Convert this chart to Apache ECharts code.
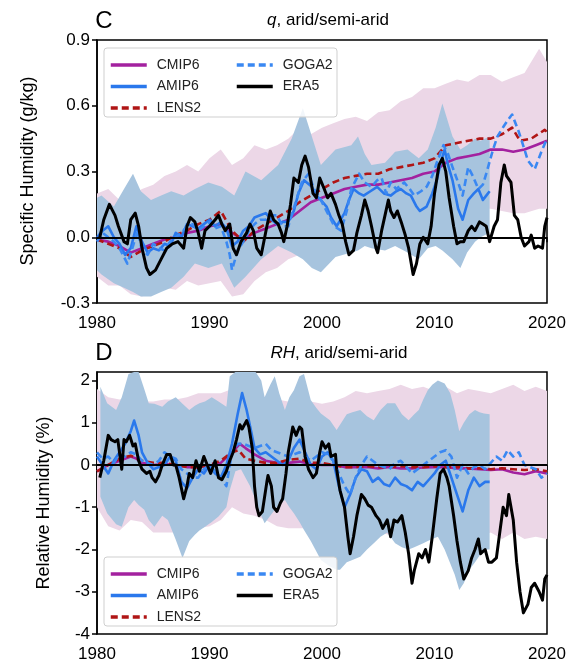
<!DOCTYPE html>
<html>
<head>
<meta charset="utf-8">
<script src="https://cdn.jsdelivr.net/npm/echarts@6.0.0/dist/echarts.min.js"></script>
<style>
  html, body { margin: 0; padding: 0; background: #fff; }
  #chart { width: 579px; height: 665px; }
</style>
</head>
<body>
<div id="chart"></div>
<script>
// ---- panel C: specific humidity anomaly (g/kg), [year, value] ----
const qCmip6 = [[1980,-0.01],[1981,-0.02],[1982,-0.04],[1983,-0.07],[1984,-0.05],[1985,-0.03],[1986,-0.01],[1987,0.0],[1988,0.02],[1989,0.03],[1990,0.05],[1991,0.06],[1992,0.02],[1993,-0.01],[1994,0.02],[1995,0.04],[1996,0.06],[1997,0.08],[1998,0.12],[1999,0.16],[2000,0.18],[2001,0.2],[2002,0.22],[2003,0.23],[2004,0.24],[2005,0.24],[2006,0.25],[2007,0.26],[2008,0.27],[2009,0.29],[2010,0.3],[2011,0.34],[2012,0.36],[2013,0.37],[2014,0.38],[2015,0.4],[2016,0.4],[2017,0.39],[2018,0.4],[2019,0.42],[2020,0.44]];
const qLens2 = [[1980,-0.01],[1981,-0.03],[1982,-0.05],[1983,-0.09],[1984,-0.06],[1985,-0.04],[1986,-0.02],[1987,0.01],[1988,0.03],[1989,0.06],[1990,0.08],[1991,0.12],[1992,0.03],[1993,-0.02],[1994,0.03],[1995,0.06],[1996,0.09],[1997,0.12],[1998,0.16],[1999,0.19],[2000,0.22],[2001,0.25],[2002,0.27],[2003,0.28],[2004,0.29],[2005,0.29],[2006,0.31],[2007,0.32],[2008,0.33],[2009,0.34],[2010,0.36],[2011,0.42],[2012,0.43],[2013,0.44],[2014,0.45],[2015,0.45],[2016,0.47],[2016.9,0.5],[2017.6,0.44],[2018.6,0.45],[2019.8,0.49],[2020,0.48]];
const qAmip6 = [[1980,0.0],[1980.5,0.03],[1981,0.05],[1981.5,0.0],[1982,-0.03],[1982.5,-0.08],[1983,-0.05],[1983.5,0.05],[1984,-0.02],[1984.5,-0.07],[1985,-0.05],[1985.5,-0.06],[1986,-0.03],[1986.5,-0.04],[1987,0.02],[1987.5,0.0],[1988,0.06],[1988.5,0.05],[1989,0.04],[1989.5,0.06],[1990,0.08],[1990.5,0.05],[1991,0.07],[1991.5,0.04],[1992,-0.04],[1992.5,-0.02],[1993,0.03],[1993.5,0.05],[1994,0.09],[1994.5,0.1],[1995,0.11],[1995.5,0.08],[1996,0.06],[1996.5,0.07],[1997,0.07],[1997.5,0.12],[1997.9,0.2],[1998.4,0.26],[1999.1,0.23],[1999.5,0.19],[1999.9,0.17],[2000.4,0.14],[2000.8,0.09],[2001.3,0.05],[2002,0.11],[2002.4,0.17],[2002.8,0.22],[2003.3,0.2],[2003.7,0.19],[2004.3,0.21],[2004.9,0.23],[2005.5,0.2],[2006.1,0.19],[2006.6,0.21],[2007,0.22],[2007.5,0.2],[2007.9,0.19],[2008.4,0.14],[2008.7,0.12],[2009.3,0.14],[2009.8,0.2],[2010.2,0.26],[2010.6,0.35],[2010.9,0.4],[2011.2,0.33],[2011.6,0.26],[2012.1,0.13],[2012.5,0.08],[2013,0.17],[2013.5,0.2],[2013.9,0.22],[2014.3,0.17],[2014.6,0.19],[2014.9,0.21]];
const qGoga2 = [[1980,-0.02],[1980.5,0.02],[1981,0.0],[1981.5,-0.02],[1982,-0.05],[1982.7,-0.12],[1983.2,-0.04],[1983.6,0.03],[1984,-0.06],[1984.5,-0.08],[1985,-0.03],[1985.5,-0.05],[1986,-0.06],[1986.5,-0.02],[1987,0.0],[1987.5,0.02],[1988,0.05],[1988.5,0.06],[1989,0.03],[1989.5,0.05],[1990,0.07],[1990.5,0.04],[1991,0.05],[1991.5,-0.02],[1991.8,-0.08],[1992,-0.15],[1992.5,-0.06],[1993,-0.02],[1993.5,0.03],[1994,0.06],[1994.5,0.08],[1995,0.08],[1995.5,0.1],[1996,0.1],[1996.5,0.05],[1997,0.05],[1997.6,0.15],[1998.2,0.25],[1998.8,0.29],[1999.3,0.22],[1999.7,0.19],[2000.1,0.15],[2000.5,0.11],[2001.1,0.05],[2001.7,0.03],[2002.2,0.12],[2002.6,0.22],[2003.3,0.29],[2003.8,0.25],[2004.4,0.23],[2004.9,0.26],[2005.3,0.27],[2005.7,0.2],[2006.1,0.25],[2006.6,0.22],[2007.3,0.25],[2007.8,0.22],[2008.2,0.19],[2008.8,0.21],[2009.3,0.23],[2009.8,0.28],[2010.2,0.34],[2010.8,0.42],[2011.2,0.38],[2011.6,0.32],[2012.1,0.25],[2012.5,0.19],[2013,0.32],[2013.4,0.28],[2013.9,0.22],[2014.3,0.24],[2014.6,0.29],[2015.2,0.4],[2015.6,0.46],[2016.2,0.51],[2016.6,0.54],[2016.9,0.56],[2017.5,0.48],[2018,0.4],[2018.3,0.35],[2018.9,0.31],[2019.5,0.39],[2020,0.45]];
const qEra5 = [[1980.25,0.0],[1980.6,0.08],[1981.1,0.15],[1981.6,0.1],[1981.9,0.05],[1982.4,-0.02],[1982.7,-0.03],[1983.0,0.08],[1983.4,0.11],[1983.7,0.05],[1984.0,-0.05],[1984.4,-0.14],[1984.7,-0.17],[1985.2,-0.15],[1985.7,-0.1],[1986.2,-0.05],[1986.7,-0.03],[1987.2,-0.02],[1987.7,-0.05],[1988.0,0.05],[1988.3,0.09],[1988.7,0.07],[1989.0,0.02],[1989.3,-0.05],[1989.6,0.03],[1990.0,0.05],[1990.5,0.08],[1990.8,0.1],[1991.1,0.06],[1991.4,0.03],[1991.8,0.06],[1992.1,-0.05],[1992.4,-0.08],[1992.8,-0.02],[1993.3,0.02],[1993.6,0.06],[1993.9,0.03],[1994.2,-0.05],[1994.6,-0.08],[1995.1,0.05],[1995.4,0.12],[1995.7,0.08],[1996.1,0.06],[1996.4,0.02],[1996.6,-0.02],[1996.9,0.05],[1997.2,0.15],[1997.5,0.27],[1997.9,0.25],[1998.2,0.33],[1998.5,0.37],[1998.8,0.32],[1999.2,0.2],[1999.5,0.18],[1999.8,0.27],[2000.2,0.22],[2000.5,0.18],[2000.8,0.2],[2001.2,0.15],[2001.5,0.1],[2001.8,0.06],[2002.1,-0.02],[2002.4,-0.08],[2002.8,-0.06],[2003.1,0.02],[2003.5,0.1],[2003.8,0.17],[2004.1,0.12],[2004.4,0.05],[2004.8,-0.05],[2004.95,-0.07],[2005.3,0.03],[2005.6,0.1],[2005.9,0.17],[2006.1,0.12],[2006.4,0.09],[2006.7,0.12],[2007.1,0.06],[2007.4,0.01],[2007.7,-0.05],[2008.1,-0.17],[2008.4,-0.12],[2008.7,-0.03],[2009.0,0.0],[2009.4,-0.03],[2009.7,0.05],[2010.0,0.2],[2010.4,0.33],[2010.7,0.36],[2011.0,0.3],[2011.3,0.18],[2011.7,0.05],[2012.0,-0.03],[2012.3,-0.02],[2012.6,-0.02],[2013.0,0.03],[2013.3,0.05],[2013.6,0.03],[2014.0,0.07],[2014.3,0.06],[2014.6,0.05],[2014.9,-0.02],[2015.3,0.05],[2015.6,0.08],[2015.9,0.25],[2016.2,0.33],[2016.4,0.28],[2016.8,0.25],[2017.1,0.1],[2017.4,0.08],[2017.7,0.0],[2018.0,-0.04],[2018.4,-0.02],[2018.6,0.01],[2018.9,-0.05],[2019.2,-0.04],[2019.6,-0.05],[2019.8,0.05],[2020.0,0.09]];
// spreads: [year, low, high]
const qCmip6Band = [[1980,-0.18,0.2],[1981,-0.22,0.22],[1982,-0.22,0.17],[1983,-0.26,0.19],[1984,-0.27,0.22],[1985,-0.25,0.24],[1986,-0.23,0.28],[1987,-0.24,0.3],[1988,-0.2,0.33],[1989,-0.22,0.3],[1990,-0.21,0.36],[1991,-0.2,0.4],[1992,-0.27,0.33],[1993,-0.26,0.36],[1994,-0.2,0.42],[1995,-0.16,0.4],[1996,-0.14,0.42],[1997,-0.1,0.45],[1998,-0.08,0.5],[1999,-0.07,0.47],[2000,-0.06,0.5],[2001,-0.04,0.52],[2002,-0.02,0.54],[2003,0.0,0.55],[2004,0.01,0.53],[2005,0.02,0.57],[2006,0.03,0.58],[2007,0.04,0.62],[2008,0.05,0.64],[2009,0.06,0.68],[2010,0.08,0.68],[2011,0.1,0.7],[2012,0.11,0.72],[2013,0.12,0.71],[2014,0.13,0.74],[2015,0.13,0.74],[2016,0.12,0.71],[2017,0.11,0.73],[2018,0.11,0.75],[2019.3,0.13,0.86],[2020,0.13,0.8]];
const qAmip6Band = [[1980,-0.15,0.18],[1980.4,-0.17,0.19],[1981.5,-0.21,0.14],[1982.4,-0.23,0.22],[1983.2,-0.25,0.29],[1983.9,-0.27,0.21],[1984.8,-0.27,0.17],[1985.7,-0.25,0.19],[1986.6,-0.23,0.21],[1987.7,-0.18,0.19],[1988.7,-0.12,0.22],[1989.9,-0.14,0.25],[1991.1,-0.12,0.23],[1992.2,-0.23,0.19],[1993.2,-0.18,0.3],[1994.6,-0.1,0.26],[1996.1,-0.04,0.33],[1997.3,-0.07,0.45],[1998.3,-0.1,0.59],[1999.1,-0.14,0.46],[1999.9,-0.16,0.33],[2001.2,-0.09,0.4],[2002.6,-0.07,0.42],[2003.2,-0.06,0.46],[2003.8,-0.04,0.38],[2004.4,-0.05,0.33],[2005.6,-0.06,0.34],[2006.5,-0.04,0.39],[2007.6,-0.07,0.4],[2008.6,-0.1,0.36],[2009.4,-0.05,0.4],[2010.1,-0.04,0.5],[2010.7,-0.06,0.61],[2011.6,-0.1,0.46],[2012.3,-0.14,0.4],[2012.9,-0.07,0.42],[2013.6,-0.02,0.45],[2014.1,0.0,0.44],[2014.9,0.02,0.46]];

// ---- panel D: relative humidity anomaly (%), [year, value] ----
const rhCmip6 = [[1980,-0.15],[1981,0.0],[1982,0.1],[1983,0.2],[1983.5,0.15],[1984,0.05],[1985,0.0],[1986,0.02],[1987,0.0],[1988,-0.05],[1989,-0.05],[1990,-0.02],[1991,0.05],[1992,0.3],[1992.7,0.5],[1993.2,0.4],[1994,0.25],[1995,0.1],[1996,0.05],[1997,0.05],[1998,0.08],[1999,0.02],[2000,0.0],[2001,0.0],[2002,-0.05],[2003,-0.05],[2004,-0.05],[2005,-0.08],[2006,-0.05],[2007,-0.08],[2008,-0.08],[2009,-0.06],[2010,-0.05],[2011,-0.05],[2012,-0.08],[2013,-0.08],[2014,-0.1],[2015,-0.12],[2016,-0.1],[2017,-0.18],[2018,-0.22],[2019,-0.15],[2020,-0.2]];
const rhLens2 = [[1980,-0.15],[1981,0.0],[1982,0.15],[1983,0.22],[1984,0.1],[1985,0.05],[1986,0.05],[1987,0.0],[1988,-0.05],[1989,-0.05],[1990,0.0],[1991,0.1],[1992,0.3],[1992.6,0.35],[1993.2,0.15],[1994,0.1],[1995,0.05],[1996,0.05],[1997,0.12],[1998,0.15],[1999,0.05],[2000,0.05],[2001,0.0],[2002,-0.05],[2003,-0.05],[2004,-0.03],[2005,-0.05],[2006,-0.05],[2007,-0.03],[2008,-0.05],[2009,-0.05],[2010,-0.03],[2011,-0.05],[2012,-0.05],[2013,-0.08],[2014,-0.08],[2015,-0.1],[2016,-0.08],[2017,-0.1],[2018,-0.12],[2019,-0.1],[2020,-0.15]];
const rhAmip6 = [[1980,0.2],[1980.5,0.0],[1981,-0.2],[1981.5,0.1],[1982,0.3],[1982.5,0.5],[1983,0.8],[1983.3,1.05],[1983.7,0.7],[1984,0.3],[1984.5,0.05],[1985,-0.1],[1985.5,-0.05],[1986,0.0],[1986.5,0.2],[1987,0.1],[1987.5,-0.4],[1988,-0.55],[1988.5,-0.3],[1989,-0.1],[1989.5,-0.2],[1990,0.0],[1990.5,-0.2],[1991,-0.3],[1991.5,0.0],[1992,0.5],[1992.5,1.2],[1992.9,1.7],[1993.3,1.3],[1993.7,0.8],[1994,0.4],[1994.5,0.25],[1995,0.3],[1995.5,0.2],[1996,0.1],[1996.5,0.0],[1997,0.1],[1997.5,0.4],[1998,0.6],[1998.5,0.3],[1999,0.0],[1999.5,-0.1],[2000,0.2],[2000.5,0.3],[2001,0.1],[2001.5,-0.5],[2002,-1.0],[2002.5,-0.7],[2003,-0.3],[2003.5,-0.1],[2004,-0.15],[2004.5,-0.4],[2005,-0.3],[2005.5,-0.45],[2006,-0.5],[2006.5,-0.3],[2007,-0.45],[2007.5,-0.5],[2008,-0.6],[2008.5,-0.4],[2009,-0.5],[2009.5,-0.35],[2010,-0.2],[2010.5,0.0],[2011,0.1],[2011.5,-0.3],[2012,-0.7],[2012.5,-1.1],[2013,-0.6],[2013.5,-0.3],[2014,-0.5],[2014.5,-0.4],[2014.9,-0.4]];
const rhGoga2 = [[1980,0.3],[1980.5,0.15],[1981,0.2],[1981.5,0.05],[1982,0.25],[1982.5,0.2],[1983,0.3],[1983.5,0.25],[1984,0.1],[1984.5,0.05],[1985,0.0],[1985.5,0.1],[1986,0.3],[1986.5,0.2],[1987,0.15],[1987.5,-0.1],[1988,-0.2],[1988.5,-0.3],[1989,-0.3],[1989.5,-0.1],[1990,0.0],[1990.5,-0.15],[1991,-0.3],[1991.5,-0.5],[1992,0.3],[1992.5,0.5],[1993,0.5],[1993.5,0.45],[1994,0.4],[1994.5,0.45],[1995,0.5],[1995.5,0.35],[1996,0.3],[1996.5,0.25],[1997,0.2],[1997.5,0.25],[1998,0.3],[1998.5,0.2],[1999,0.1],[1999.5,0.2],[2000,0.3],[2000.5,0.25],[2001,0.1],[2001.5,-0.2],[2002,-0.5],[2002.5,-0.7],[2003,-0.3],[2003.5,0.0],[2004,0.2],[2004.5,0.1],[2005,0.0],[2005.5,-0.05],[2006,-0.1],[2006.5,0.05],[2007,0.1],[2007.5,-0.05],[2008,-0.2],[2008.5,-0.1],[2009,0.0],[2009.5,0.1],[2010,0.2],[2010.5,0.3],[2011,0.35],[2011.5,0.2],[2012,-0.3],[2012.5,0.0],[2013,-0.2],[2013.5,-0.05],[2014,0.0],[2014.5,-0.1],[2015,0.05],[2015.5,0.2],[2016,0.1],[2016.5,0.35],[2017,0.2],[2017.5,0.3],[2018,0.0],[2018.5,-0.05],[2019,-0.1],[2019.5,-0.3],[2020,-0.2]];
const rhEra5 = [[1980.25,-0.3],[1980.6,0.1],[1981.0,0.7],[1981.25,0.6],[1981.6,0.55],[1981.85,0.6],[1982.2,-0.1],[1982.4,0.6],[1982.6,0.55],[1982.9,0.7],[1983.2,0.45],[1983.4,0.5],[1983.7,0.1],[1984.0,-0.1],[1984.4,-0.2],[1984.7,-0.15],[1984.9,-0.3],[1985.2,-0.4],[1985.5,-0.25],[1985.8,0.0],[1986.2,0.25],[1986.5,0.25],[1986.8,0.0],[1987.0,0.0],[1987.3,-0.3],[1987.7,-0.8],[1988.0,-0.5],[1988.2,-0.2],[1988.5,-0.3],[1988.8,0.1],[1989.1,-0.15],[1989.5,0.2],[1989.8,0.0],[1990.1,-0.2],[1990.5,0.1],[1990.8,-0.3],[1991.1,-0.35],[1991.5,-0.15],[1991.8,0.1],[1992.1,0.3],[1992.4,0.6],[1992.7,0.95],[1992.9,0.85],[1993.3,1.05],[1993.5,0.9],[1993.8,0.4],[1994.0,-0.5],[1994.2,-1.0],[1994.4,-1.2],[1994.7,-1.1],[1995.1,-0.4],[1995.2,-0.25],[1995.5,-0.5],[1995.7,-1.0],[1996.0,-1.1],[1996.3,-0.9],[1996.5,-0.8],[1996.8,-0.2],[1997.0,0.3],[1997.4,0.9],[1997.7,0.7],[1998.0,0.9],[1998.2,0.85],[1998.5,0.2],[1998.8,-0.1],[1999.2,-0.3],[1999.5,-0.2],[1999.8,0.3],[2000.0,0.55],[2000.3,0.4],[2000.6,0.5],[2000.8,0.2],[2001.2,0.25],[2001.3,-0.1],[2001.6,-0.6],[2002.0,-1.0],[2002.3,-1.7],[2002.5,-2.1],[2002.8,-1.7],[2003.1,-1.2],[2003.5,-0.7],[2003.8,-0.8],[2004.1,-0.95],[2004.4,-1.0],[2004.8,-1.2],[2005.1,-1.3],[2005.4,-1.5],[2005.8,-1.3],[2006.1,-1.7],[2006.4,-1.3],[2006.7,-1.35],[2007.1,-1.2],[2007.4,-1.6],[2007.7,-2.1],[2008.0,-2.8],[2008.2,-2.5],[2008.6,-2.1],[2008.9,-2.2],[2009.2,-2.0],[2009.5,-2.3],[2009.8,-1.7],[2010.2,-0.8],[2010.5,-0.2],[2010.8,-0.1],[2011.1,-0.3],[2011.3,-0.5],[2011.7,-1.2],[2012.0,-1.8],[2012.3,-2.3],[2012.6,-2.7],[2013.0,-2.5],[2013.3,-2.2],[2013.6,-2.0],[2013.9,-1.75],[2014.1,-2.1],[2014.5,-2.0],[2014.8,-2.3],[2015.1,-2.3],[2015.5,-2.2],[2015.8,-1.6],[2016.1,-1.0],[2016.4,-1.2],[2016.6,-0.7],[2017.0,-1.3],[2017.3,-2.3],[2017.6,-3.0],[2017.9,-3.5],[2018.3,-3.3],[2018.6,-2.9],[2018.9,-2.8],[2019.3,-3.0],[2019.6,-3.2],[2019.8,-2.7],[2020.0,-2.6]];
const rhCmip6Band = [[1980,-1.0,1.8],[1981,-1.45,1.6],[1982,-1.55,1.55],[1983,-1.3,1.6],[1984,-1.35,1.5],[1985,-1.6,1.5],[1986,-1.6,1.55],[1987,-1.6,1.55],[1988,-1.5,1.6],[1989,-1.5,1.7],[1990,-1.45,1.7],[1991,-1.3,1.7],[1992,-1.0,1.8],[1993,-1.15,1.8],[1994,-1.2,1.7],[1995,-1.3,1.6],[1996,-1.45,1.55],[1997,-1.5,1.5],[1998,-1.5,1.55],[1999,-1.5,1.5],[2000,-1.45,1.45],[2001,-1.5,1.5],[2002,-1.6,1.6],[2003,-1.55,1.75],[2004,-1.6,1.7],[2005,-1.6,1.75],[2006,-1.65,1.8],[2007,-1.7,1.9],[2008,-1.7,1.8],[2009,-1.65,1.85],[2010,-1.7,1.75],[2011,-1.65,1.85],[2012,-1.7,1.7],[2013,-1.65,1.8],[2014,-1.7,1.75],[2015,-1.6,1.7],[2016,-1.75,1.8],[2017,-1.6,1.9],[2018,-1.75,1.75],[2019,-1.7,1.85],[2020,-1.75,1.75]];
const rhAmip6Band = [[1980.3,-0.75,1.85],[1980.9,-1.14,1.46],[1981.7,-1.4,1.3],[1982.2,-1.46,1.6],[1982.8,-1.0,2.15],[1983.3,-0.83,2.2],[1983.7,-0.95,2.2],[1984.2,-1.06,1.8],[1984.6,-1.3,1.46],[1985.1,-1.46,1.45],[1985.8,-1.2,1.38],[1986.3,-1.3,1.5],[1987.0,-1.77,1.6],[1987.6,-2.2,1.45],[1988.2,-1.8,1.3],[1988.7,-1.65,1.4],[1989.1,-1.55,1.46],[1989.6,-1.46,1.5],[1990.2,-1.35,1.6],[1990.8,-1.22,1.5],[1991.5,-1.0,1.38],[1991.8,-0.6,2.1],[1992.3,-0.15,2.2],[1992.8,-0.1,2.2],[1993.2,-0.3,2.2],[1993.6,-0.5,2.2],[1994.1,-0.83,2.2],[1994.6,-1.2,2.0],[1994.9,-1.38,1.6],[1995.4,-1.2,1.9],[1995.8,-1.06,2.1],[1996.2,-0.95,1.7],[1996.7,-0.83,1.3],[1997.1,-1.0,1.6],[1997.5,-1.14,1.77],[1998.0,-1.35,2.1],[1998.4,-1.54,2.15],[1999.0,-1.8,1.54],[1999.5,-2.05,1.35],[1999.9,-2.25,1.22],[2000.7,-2.4,1.06],[2001.3,-2.48,0.83],[2001.6,-2.48,0.95],[2002.2,-2.3,1.2],[2002.7,-2.25,1.25],[2003.4,-2.17,1.3],[2004.0,-2.0,1.15],[2004.6,-1.85,1.06],[2005.2,-1.7,1.3],[2005.8,-1.6,1.46],[2006.5,-1.85,1.46],[2007.1,-1.95,1.2],[2007.7,-2.0,1.06],[2008.2,-1.95,1.2],[2008.6,-1.9,1.3],[2009.0,-1.85,1.55],[2009.4,-1.8,1.77],[2009.8,-1.75,1.9],[2010.3,-1.7,2.0],[2010.9,-2.0,1.93],[2011.4,-2.33,1.7],[2011.8,-2.6,1.3],[2012.2,-2.96,0.8],[2012.6,-2.8,1.0],[2013.1,-2.48,1.2],[2013.6,-2.3,1.3],[2014.0,-2.15,1.25],[2014.4,-2.0,1.22],[2014.9,-2.0,1.2]];

const qTicks = [-0.3, 0, 0.3, 0.6, 0.9];
const rhTicks = [-4, -3, -2, -1, 0, 1, 2];
const colNames = [['CMIP6', 'AMIP6', 'LENS2'], ['GOGA2', 'ERA5']];

const FONT = '"Liberation Sans", Arial, sans-serif';
const C = {
  cmip: '#a3219f', amip: '#2a78ec', lens: '#b01515', goga: '#3a88f2', era: '#000',
  pink: '#ecd7e7', blue: '#a7c4de'
};

function band(data, idx, color, z) {
  return {
    type: 'custom', xAxisIndex: idx, yAxisIndex: idx, silent: true, z: z,
    data: [[data[0][0], data[0][1]]],
    renderItem: function (params, api) {
      const hi = data.map(d => api.coord([d[0], d[2]]));
      const lo = data.slice().reverse().map(d => api.coord([d[0], d[1]]));
      return { type: 'polygon', shape: { points: hi.concat(lo) }, style: { fill: color } };
    }
  };
}

function line(name, data, idx, color, width, dashed, z) {
  return {
    name: name, type: 'line', xAxisIndex: idx, yAxisIndex: idx, data: data,
    symbol: 'none', silent: true, z: z,
    lineStyle: { color: color, width: width, type: dashed ? [7, 4] : 'solid', cap: 'butt', join: 'round' },
    itemStyle: { color: color }
  };
}

function panel(idx, d) {
  const s = [
    band(d.cmipBand, idx, C.pink, 1),
    band(d.amipBand, idx, C.blue, 1),
    line('CMIP6', d.cmip, idx, C.cmip, 2.6, false, 3),
    line('LENS2', d.lens, idx, C.lens, 2.6, true, 3),
    line('AMIP6', d.amip, idx, C.amip, 2.6, false, 4),
    line('GOGA2', d.goga, idx, C.goga, 2.6, true, 4),
    line('ERA5', d.era, idx, C.era, 3, false, 6)
  ];
  s[6].markLine = {
    silent: true, symbol: 'none', label: { show: false },
    lineStyle: { color: '#000', width: 2, type: 'solid' },
    data: [{ yAxis: 0 }]
  };
  return s;
}

const axisCommon = {
  axisLine: { show: true, lineStyle: { color: '#000', width: 1.5 } },
  axisTick: { show: true, inside: false, length: 5, lineStyle: { color: '#000', width: 1.5 } },
  splitLine: { show: false }
};
function xAxis(idx) {
  return Object.assign({
    type: 'value', gridIndex: idx, min: 1980, max: 2020, interval: 10,
    axisLabel: { fontSize: 17, color: '#000', fontFamily: FONT, margin: 12, formatter: v => String(v) }
  }, axisCommon);
}
function yAxis(idx, ticks, min, max, digits) {
  return Object.assign({
    type: 'value', gridIndex: idx, min: min, max: max,
    axisLabel: { fontSize: 17, color: '#000', fontFamily: FONT, margin: 7,
      customValues: ticks, formatter: v => v.toFixed(digits) },
    axisTick: { show: true, inside: false, length: 5, customValues: ticks, lineStyle: { color: '#000', width: 1.5 } }
  }, { axisLine: axisCommon.axisLine, splitLine: axisCommon.splitLine });
}

function legends(top) {
  const base = {
    orient: 'vertical', top: top, itemWidth: 36, itemHeight: 14, itemGap: 7.5,
    selectedMode: false,
    itemStyle: { opacity: 0, borderWidth: 0 },
    lineStyle: { width: 3.5 },
    textStyle: { fontSize: 14, color: '#222', fontFamily: FONT, padding: [0, 0, 0, 5] }
  };
  return [
    Object.assign({}, base, { left: 104, data: colNames[0] }),
    Object.assign({}, base, { left: 230, data: colNames[1] })
  ];
}

function legendBox(y) {
  return { type: 'rect', z: 3, shape: { x: 104, y: y, width: 233, height: 69, r: 3 },
    style: { fill: 'rgba(255,255,255,0.85)', stroke: '#cfcfcf', lineWidth: 1 } };
}
function txt(x, y, text, size, extra) {
  return Object.assign({ type: 'text', x: x, y: y, z: 10,
    style: Object.assign({ text: text, fontSize: size, fontFamily: FONT, fill: '#000',
      align: 'center', verticalAlign: 'middle' }, extra && extra.style) }, extra && extra.el);
}

const chart = echarts.init(document.getElementById('chart'), null, { renderer: 'canvas' });
chart.setOption({
  animation: false,
  backgroundColor: '#fff',
  grid: [
    { left: 97, right: 32, top: 40, height: 263, show: true, borderColor: '#000', borderWidth: 1.5, backgroundColor: 'transparent' },
    { left: 97, right: 32, top: 372, height: 262, show: true, borderColor: '#000', borderWidth: 1.5, backgroundColor: 'transparent' }
  ],
  xAxis: [xAxis(0), xAxis(1)],
  yAxis: [yAxis(0, qTicks, -0.3, 0.9, 1), yAxis(1, rhTicks, -4, 2.2, 0)],
  legend: legends(53).concat(legends(562)),
  graphic: [
    legendBox(48), legendBox(557),
    txt(104, 21, 'C', 24),
    txt(328, 20, '{i|q}, arid/semi-arid', 17, { style: { rich: { i: { fontStyle: 'italic', fontSize: 17, fontFamily: FONT } } } }),
    txt(104, 353, 'D', 24),
    txt(339, 353, '{i|RH}, arid/semi-arid', 17, { style: { rich: { i: { fontStyle: 'italic', fontSize: 17, fontFamily: FONT } } } }),
    txt(28, 171, 'Specific Humidity (g/kg)', 18, { el: { rotation: Math.PI / 2 } }),
    txt(44, 503, 'Relative Humidity (%)', 18, { el: { rotation: Math.PI / 2 } })
  ],
  series: panel(0, { cmipBand: qCmip6Band, amipBand: qAmip6Band, cmip: qCmip6, lens: qLens2, amip: qAmip6, goga: qGoga2, era: qEra5 })
    .concat(panel(1, { cmipBand: rhCmip6Band, amipBand: rhAmip6Band, cmip: rhCmip6, lens: rhLens2, amip: rhAmip6, goga: rhGoga2, era: rhEra5 }))
});
</script>
</body>
</html>
